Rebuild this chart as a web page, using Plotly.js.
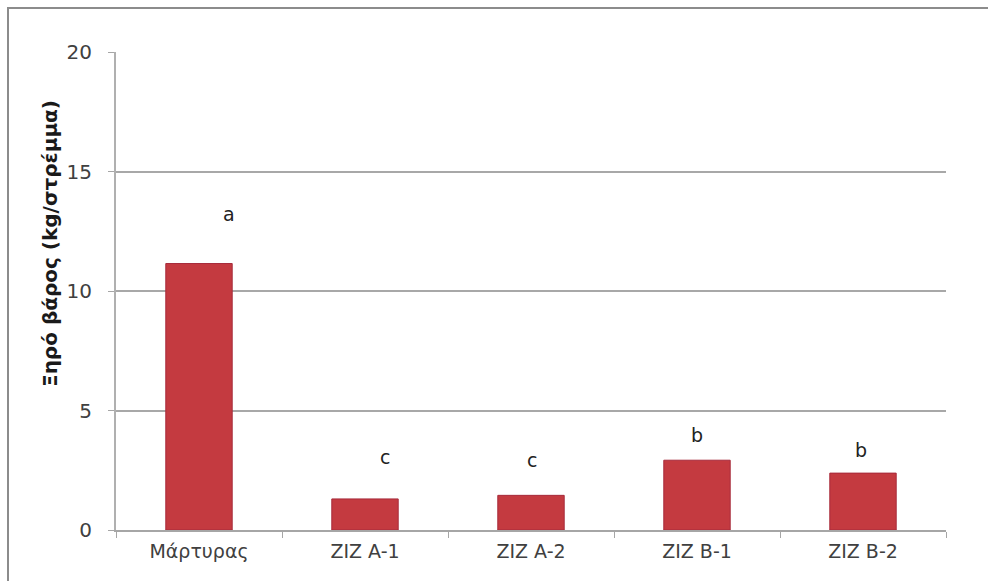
<!DOCTYPE html>
<html>
<head>
<meta charset="utf-8">
<script src="https://cdn.plot.ly/plotly-3.0.1.min.js"></script>
<style>
  html, body { margin: 0; padding: 0; background: #ffffff; }
  #chart { width: 988px; height: 581px; }
</style>
</head>
<body>
<div id="chart"></div>
<script>
// Dry weight per treatment (kg/στρέμμα) with significance groups
const categories = ['Μάρτυρας', 'ZIZ A-1', 'ZIZ A-2', 'ZIZ B-1', 'ZIZ B-2'];
const dryWeight = [11.15, 1.3, 1.45, 2.92, 2.38];
const groupLetters = ['a', 'c', 'c', 'b', 'b'];
const yTicks = [0, 5, 10, 15, 20];

// Pixel offsets of each significance letter relative to its bar top
const letterDx = [30, 20, 1, 0, -2];
const letterDy = [50, 42, 35, 25, 23];

const W = 988, H = 581;
const margin = { l: 116, r: 42, t: 52, b: 51 };
const plotW = W - margin.l - margin.r;
const plotH = H - margin.t - margin.b;
const px2paperX = px => (px - margin.l) / plotW;
const px2paperY = py => (H - margin.b - py) / plotH;

const bars = {
  type: 'bar',
  x: categories,
  y: dryWeight,
  width: 0.4,
  marker: {
    color: '#c43a40',
    line: { color: '#a72a3a', width: 1 }
  },
  hoverinfo: 'x+y'
};

const letterAnnotations = categories.map((c, i) => ({
  x: c,
  y: dryWeight[i],
  xref: 'x',
  yref: 'y',
  text: groupLetters[i],
  showarrow: false,
  xanchor: 'center',
  yanchor: 'middle',
  xshift: letterDx[i],
  yshift: letterDy[i],
  font: { family: 'DejaVu Sans, sans-serif', size: 19, color: '#222222' }
}));

const yTitle = {
  xref: 'paper',
  yref: 'paper',
  x: px2paperX(50),
  y: px2paperY(244),
  xanchor: 'center',
  yanchor: 'middle',
  textangle: -90,
  showarrow: false,
  text: '<b>Ξηρό βάρος (kg/στρέμμα)</b>',
  font: { family: 'DejaVu Sans, sans-serif', size: 20, color: '#1a1a1a' }
};

const layout = {
  width: W,
  height: H,
  margin: margin,
  paper_bgcolor: '#ffffff',
  plot_bgcolor: '#ffffff',
  showlegend: false,
  bargap: 0.6,
  xaxis: {
    type: 'category',
    tickfont: { family: 'DejaVu Sans, sans-serif', size: 19, color: '#404040' },
    showgrid: false,
    showline: true,
    linecolor: '#a6a6a6',
    linewidth: 2,
    ticks: 'outside',
    tickson: 'boundaries',
    ticklen: 6,
    tickcolor: '#a6a6a6',
    tickwidth: 1,
    ticklabelstandoff: 3,
    zeroline: false
  },
  yaxis: {
    range: [0, 20],
    tickvals: yTicks,
    ticktext: yTicks.map(String),
    tickfont: { family: 'DejaVu Sans, sans-serif', size: 20, color: '#404040' },
    showgrid: true,
    gridcolor: '#a8a8a8',
    gridwidth: 2,
    showline: true,
    linecolor: '#b0b0b0',
    linewidth: 2,
    ticks: 'outside',
    ticklen: 6,
    tickcolor: '#a6a6a6',
    ticklabelstandoff: 12,
    zeroline: false
  },
  annotations: letterAnnotations.concat([yTitle]),
  shapes: [{
    type: 'rect',
    xref: 'paper',
    yref: 'paper',
    x0: px2paperX(8),
    x1: px2paperX(995),
    y0: px2paperY(595),
    y1: px2paperY(8),
    line: { color: '#8c8c8c', width: 2 },
    fillcolor: 'rgba(0,0,0,0)',
    layer: 'above'
  }]
};

Plotly.newPlot('chart', [bars], layout, { displayModeBar: false, staticPlot: true });
</script>
</body>
</html>
